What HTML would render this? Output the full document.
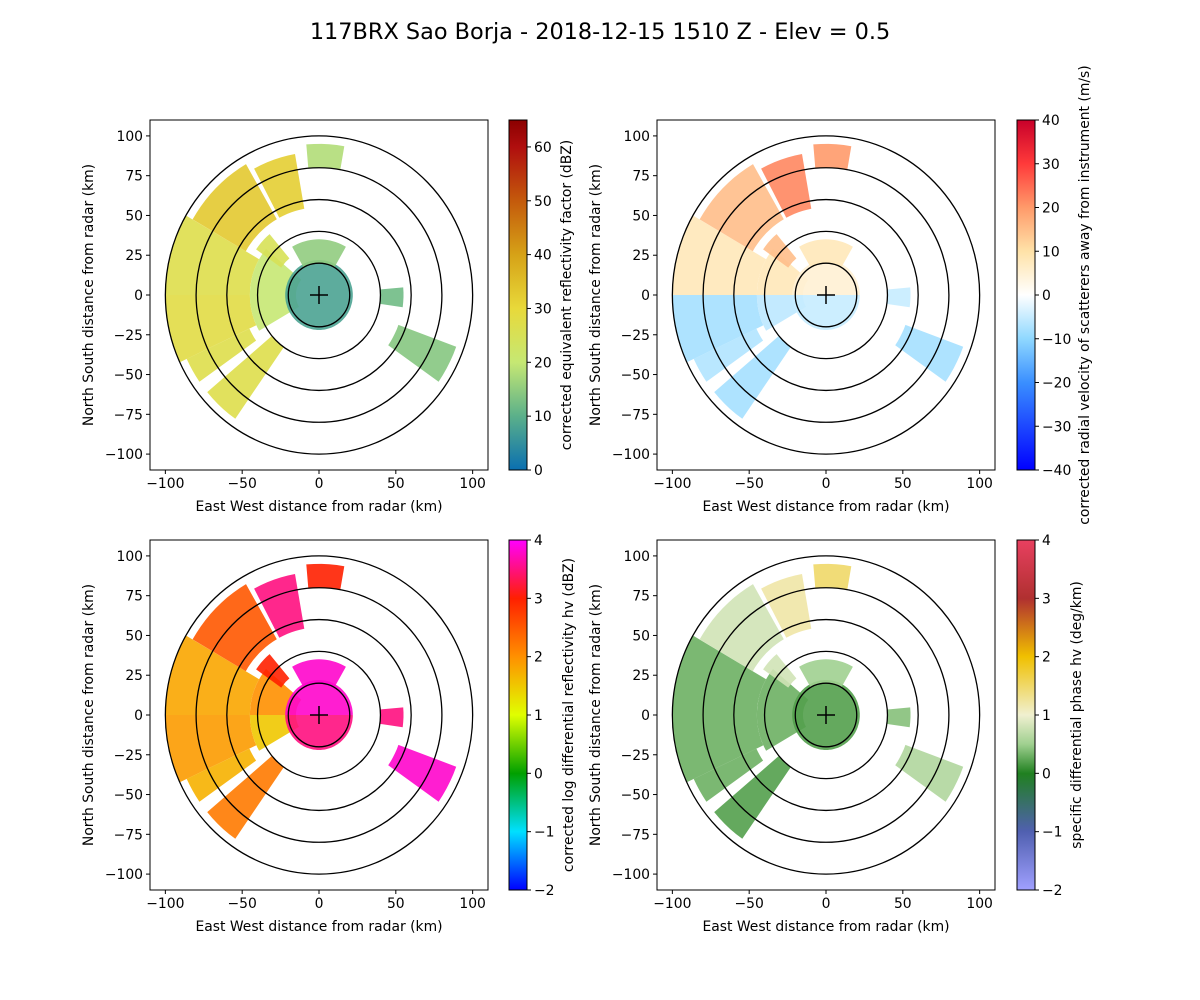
<!DOCTYPE html>
<html><head><meta charset="utf-8">
<style>
html,body{margin:0;padding:0;background:#fff;}
svg{display:block;font-family:"DejaVu Sans","Liberation Sans",sans-serif;}
</style></head>
<body>
<svg id="fig" width="1200" height="1000" viewBox="0 0 1200 1000">
<text x="600" y="39" font-size="22.4" text-anchor="middle">117BRX Sao Borja - 2018-12-15 1510 Z -  Elev = 0.5</text>
</svg>
<script>
// Echo wedges geometry (math angle deg start, end, range min km, range max km)
const wedgeA0 = [150,180,205,220,120,100,140,180,0,180,60,325,-8,80,130];
const wedgeA1 = [180,205,215,235,150,118,180,210,180,360,120,340,5,95,145];
const wedgeR0 = [45,45,50,40,55,55,15,15,0,0,20,55,40,80,30];
const wedgeR1 = [100,100,95,95,95,90,45,45,22,22,35,95,55,95,50];
// Field values per wedge
const reflValues = [27,28,27,27,33,32,20,20,8,8,15,14,12,18,25];
const velValues = [8,-8,-7,-8,15,22,8,-6,5,-5,8,-8,-5,20,15];
const zdrValues = [1.8,1.9,1.7,2.2,2.5,3.5,2,1.5,3.8,3.5,3.8,3.8,3.5,3,3];
const kdpValues = [0.3,0.3,0.3,0.2,0.8,1.2,0.3,0.3,0.2,0.2,0.5,0.6,0.4,1.5,0.8];
const xTicks = [-100,-50,0,50,100];
const yTicks = [100,75,50,25,0,-25,-50,-75,-100];
const rings = [20,40,60,80,100];

const cmaps = {
 refl:{min:0,max:65,stops:[[0,'#0a6fb0'],[10,'#5bb08a'],[20,'#c6e873'],[30,'#e8d93a'],[40,'#d6a217'],[50,'#c45a0c'],[60,'#b00e0e'],[65,'#8b0000']],ticks:[0,10,20,30,40,50,60],label:'corrected equivalent reflectivity factor (dBZ)'},
 vel:{min:-40,max:40,stops:[[-40,'#0000ff'],[-20,'#3a8fff'],[-10,'#8fd8ff'],[0,'#ffffff'],[10,'#ffe2a8'],[20,'#ff9a6a'],[30,'#ff3a3a'],[40,'#c8002a']],ticks:[-40,-30,-20,-10,0,10,20,30,40],label:'corrected radial velocity of scatterers away from instrument (m/s)'},
 zdr:{min:-2,max:4,stops:[[-2,'#0000ff'],[-1,'#00e0ff'],[0,'#00a000'],[1,'#e0ff00'],[2,'#ff9000'],[3,'#ff2000'],[4,'#ff00ff']],ticks:[-2,-1,0,1,2,3,4],label:'corrected log differential reflectivity hv (dBZ)'},
 kdp:{min:-2,max:4,stops:[[-2,'#a0a0ff'],[-1,'#5060b0'],[0,'#208020'],[0.5,'#a0d090'],[1,'#f0f0d0'],[2,'#f0c000'],[3,'#b03030'],[4,'#e84060']],ticks:[-2,-1,0,1,2,3,4],label:'specific differential phase hv (deg/km)'}
};
function hex(c){return [1,3,5].map(i=>parseInt(c.substr(i,2),16));}
function colorOf(cm,v){const s=cm.stops;if(v<=s[0][0])return s[0][1];
 for(let i=1;i<s.length;i++){if(v<=s[i][0]){const t=(v-s[i-1][0])/(s[i][0]-s[i-1][0]);const a=hex(s[i-1][1]),b=hex(s[i][1]);
 return 'rgb('+a.map((x,k)=>Math.round(x+(b[k]-x)*t)).join(',')+')';}}return s[s.length-1][1];}

const NS='http://www.w3.org/2000/svg';
const fig=document.getElementById('fig');
function el(tag,attrs,parent){const e=document.createElementNS(NS,tag);for(const k in attrs)e.setAttribute(k,attrs[k]);(parent||fig).appendChild(e);return e;}

const FS=13.9;
const panels=[
 {x0:150,y0:120,cbx:509,cm:'refl',vals:reflValues,name:'reflectivity',lo:58},
 {x0:657,y0:120,cbx:1017,cm:'vel',vals:velValues,name:'velocity',lo:68},
 {x0:150,y0:540,cbx:509,cm:'zdr',vals:zdrValues,name:'zdr',lo:60},
 {x0:657,y0:540,cbx:1017,cm:'kdp',vals:kdpValues,name:'kdp',lo:60}
];
const W=338,H=350;
panels.forEach(p=>{
 const cm=cmaps[p.cm];
 const sx=k=>p.x0+(k+110)*W/220, sy=k=>p.y0+(110-k)*H/220;
 const g=el('g',{});
 
 
 el('rect',{x:p.x0,y:p.y0,width:W,height:H,fill:'#fff'},g);
 const clipId='clip-'+p.name;
 const cp=el('clipPath',{id:clipId},g);el('rect',{x:p.x0,y:p.y0,width:W,height:H},cp);
 const dg=el('g',{'clip-path':'url(#'+clipId+')'},g);
 wedgeA0.forEach((a0,i)=>{
  const a1=wedgeA1[i],r0=wedgeR0[i],r1=wedgeR1[i];let pts=[];
  const n=Math.max(4,Math.round((a1-a0)/3));
  for(let j=0;j<=n;j++){const a=(a0+(a1-a0)*j/n)*Math.PI/180;pts.push([sx(r1*Math.cos(a)),sy(r1*Math.sin(a))]);}
  for(let j=n;j>=0;j--){const a=(a0+(a1-a0)*j/n)*Math.PI/180;pts.push([sx(r0*Math.cos(a)),sy(r0*Math.sin(a))]);}
  const w=el('polygon',{points:pts.map(q=>q[0].toFixed(1)+','+q[1].toFixed(1)).join(' '),fill:colorOf(cm,p.vals[i]),opacity:0.9},dg);
  
  
 });
 rings.forEach(r=>{
  const c=el('ellipse',{cx:sx(0),cy:sy(0),rx:r*W/220,ry:r*H/220,fill:'none',stroke:'#000','stroke-width':1.3},dg);
  
  
 });
 el('line',{x1:sx(0)-9,x2:sx(0)+9,y1:sy(0),y2:sy(0),stroke:'#000','stroke-width':1.5},g);
 el('line',{x1:sx(0),x2:sx(0),y1:sy(0)-9,y2:sy(0)+9,stroke:'#000','stroke-width':1.5},g);
 el('rect',{x:p.x0,y:p.y0,width:W,height:H,fill:'none',stroke:'#000','stroke-width':1},g);
 xTicks.forEach(t=>{const x=sx(t);el('line',{x1:x,x2:x,y1:p.y0+H,y2:p.y0+H+4,stroke:'#000'},g);
  const tx=el('text',{x:x,y:p.y0+H+18,'font-size':FS,'text-anchor':'middle'},g);tx.textContent=t<0?'\u2212'+(-t):t;});
 yTicks.forEach(t=>{const y=sy(t);el('line',{x1:p.x0-4,x2:p.x0,y1:y,y2:y,stroke:'#000'},g);
  const tx=el('text',{x:p.x0-7,y:y+5,'font-size':FS,'text-anchor':'end'},g);tx.textContent=t<0?'\u2212'+(-t):t;});
 const xl=el('text',{x:p.x0+W/2,y:p.y0+H+41,'font-size':FS,'text-anchor':'middle'},g);xl.textContent='East West distance from radar (km)';
 
 const yl=el('text',{x:0,y:0,'font-size':FS,'text-anchor':'middle',transform:'translate('+(p.x0-57)+','+(p.y0+H/2)+') rotate(-90)'},g);yl.textContent='North South distance from radar (km)';
 
 const cb=el('g',{},g);
 
 
 const gid='grad-'+p.name;const lg=el('linearGradient',{id:gid,x1:0,y1:1,x2:0,y2:0},cb);
 cm.stops.forEach(s=>el('stop',{offset:((s[0]-cm.min)/(cm.max-cm.min)).toFixed(3),'stop-color':s[1]},lg));
 el('rect',{x:p.cbx,y:p.y0,width:18,height:H,fill:'url(#'+gid+')',stroke:'#000','stroke-width':1},cb);
 cm.ticks.forEach(t=>{const y=p.y0+H-(t-cm.min)/(cm.max-cm.min)*H;el('line',{x1:p.cbx+18,x2:p.cbx+22,y1:y,y2:y,stroke:'#000'},cb);
  const tx=el('text',{x:p.cbx+25,y:y+5,'font-size':FS},cb);tx.textContent=t<0?'\u2212'+(-t):t;});
 const cl=el('text',{x:0,y:0,'font-size':FS,'text-anchor':'middle',transform:'translate('+(p.cbx+p.lo+4)+','+(p.y0+H/2)+') rotate(-90)'},cb);cl.textContent=cm.label;
});
</script>
</body></html>
